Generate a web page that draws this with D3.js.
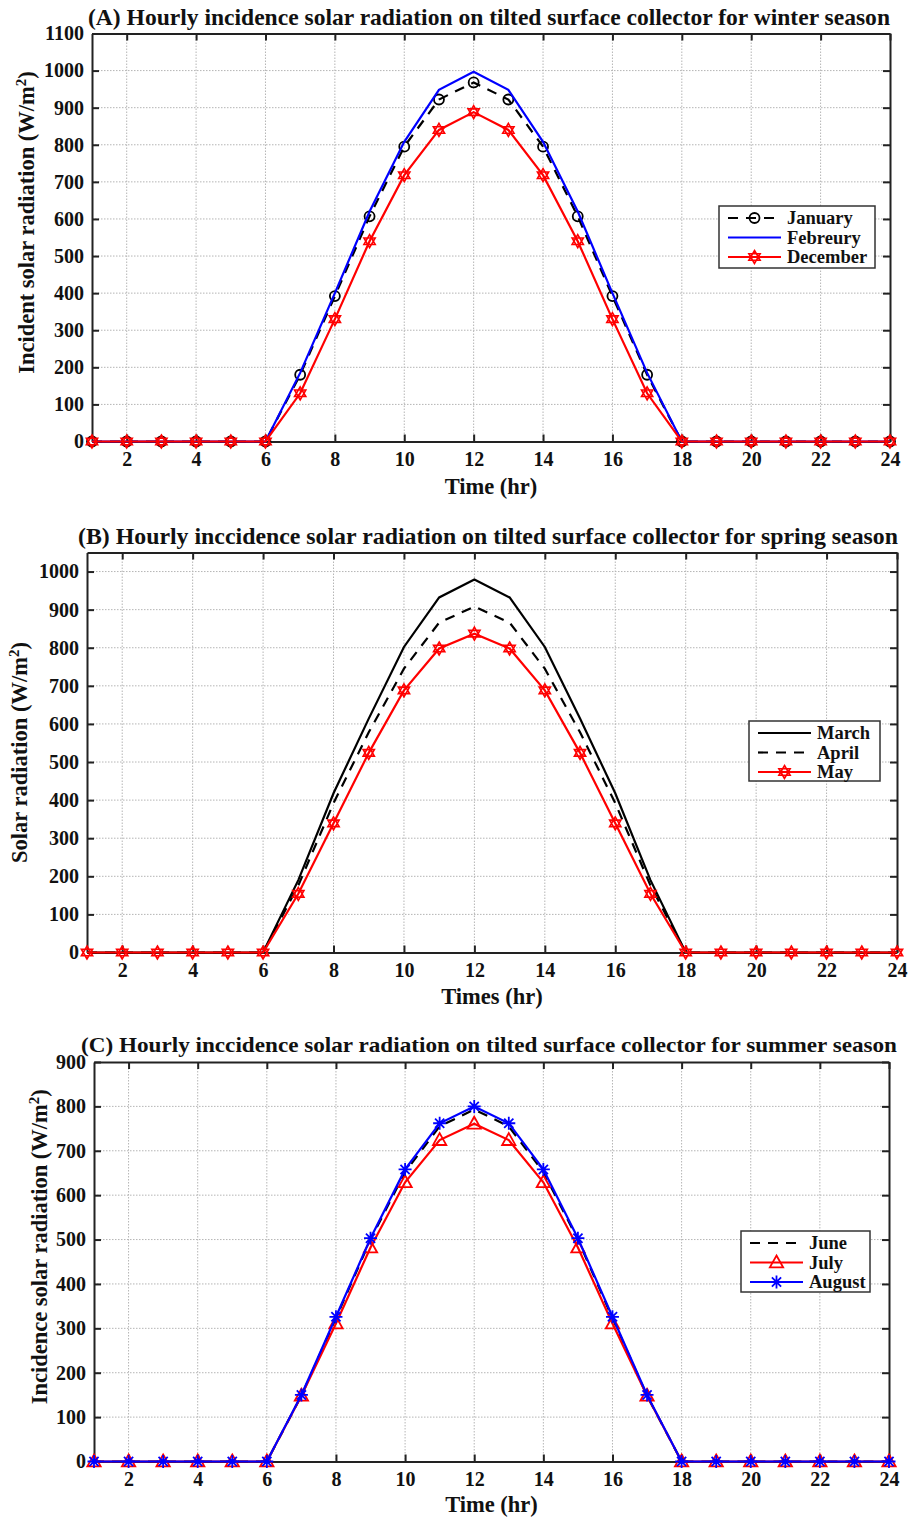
<!DOCTYPE html>
<html><head><meta charset="utf-8">
<script src="https://cdn.jsdelivr.net/npm/d3@7"></script>
<style>body{margin:0;background:#fff}text{font-family:"Liberation Serif","Times New Roman",serif;font-weight:bold;fill:#111}</style>
</head><body>
<svg id="c" width="909" height="1518"></svg>
<script>
const hours = d3.range(1, 25);
const xTicks = [2,4,6,8,10,12,14,16,18,20,22,24];
// Winter
const january  = [0,0,0,0,0,0,180,392,607,795,922,968,922,795,607,392,180,0,0,0,0,0,0,0];
const february = [0,0,0,0,0,0,185,400,620,808,948,997,948,808,620,400,185,0,0,0,0,0,0,0];
const december = [0,0,0,0,0,0,130,330,540,718,840,888,840,718,540,330,130,0,0,0,0,0,0,0];
// Spring
const march = [0,0,0,0,0,0,190,418,614,802,932,979,932,802,614,418,190,0,0,0,0,0,0,0];
const april = [0,0,0,0,0,0,176,392,578,745,866,908,866,745,578,392,176,0,0,0,0,0,0,0];
const may   = [0,0,0,0,0,0,154,339,524,688,798,837,798,688,524,339,154,0,0,0,0,0,0,0];
// Summer
const june   = [0,0,0,0,0,0,148,323,500,652,755,793,755,652,500,323,148,0,0,0,0,0,0,0];
const july   = [0,0,0,0,0,0,148,311,482,629,724,761,724,629,482,311,148,0,0,0,0,0,0,0];
const august = [0,0,0,0,0,0,150,326,503,658,762,800,762,658,503,326,150,0,0,0,0,0,0,0];

const yTicksA = d3.range(0, 1101, 100);
const yTicksB = d3.range(0, 1001, 100);
const yTicksC = d3.range(0, 901, 100);

const svg = d3.select("#c");

function hexagram(r){
  const p=[];
  for(let t=0;t<2;t++){
    const pts=[];
    for(let i=0;i<3;i++){
      const a=(t?Math.PI/2:-Math.PI/2)+i*2*Math.PI/3;
      pts.push([r*Math.cos(a), r*Math.sin(a)]);
    }
    p.push("M"+pts.map(q=>q.join(",")).join("L")+"Z");
  }
  return p.join("");
}
function asterisk(r){
  let s="";
  for(let i=0;i<4;i++){
    const a=i*Math.PI/4;
    s+=`M${-r*Math.cos(a)},${-r*Math.sin(a)}L${r*Math.cos(a)},${r*Math.sin(a)}`;
  }
  return s;
}
function triangle(r){
  return `M0,${-r}L${r*0.95},${r*0.7}L${-r*0.95},${r*0.7}Z`;
}

function drawMarker(g, type, color){
  if(type==="circle") g.append("circle").attr("r",5).attr("fill","none").attr("stroke",color).attr("stroke-width",1.8);
  else if(type==="hex") g.append("path").attr("d",hexagram(6.5)).attr("fill","none").attr("stroke",color).attr("stroke-width",1.6);
  else if(type==="tri") g.append("path").attr("d",triangle(7)).attr("fill","none").attr("stroke",color).attr("stroke-width",1.8);
  else if(type==="ast") g.append("path").attr("d",asterisk(6.5)).attr("fill","none").attr("stroke",color).attr("stroke-width",1.8);
}

function panel(cfg){
  const x = d3.scaleLinear().domain([1,24]).range([cfg.x0, cfg.x1]);
  const y = d3.scaleLinear().domain([0,cfg.ymax]).range([cfg.yb, cfg.yt]);
  const g = svg.append("g");
  // grid
  g.append("g").selectAll("line").data(cfg.yTicks.filter(v=>v>0 && v<cfg.ymax)).join("line")
    .attr("x1",cfg.x0).attr("x2",cfg.x1).attr("y1",d=>y(d)).attr("y2",d=>y(d))
    .attr("stroke","#b5b5b5").attr("stroke-width",1).attr("stroke-dasharray","1.5,1.5");
  g.append("g").selectAll("line").data(xTicks.filter(v=>v<24)).join("line")
    .attr("x1",d=>x(d)).attr("x2",d=>x(d)).attr("y1",cfg.yt).attr("y2",cfg.yb)
    .attr("stroke","#b5b5b5").attr("stroke-width",1).attr("stroke-dasharray","1.5,1.5");
  // axes
  const fmt = d3.format("d");
  const ax = g.append("g").attr("transform",`translate(0,${cfg.yb})`)
    .call(d3.axisBottom(x).tickValues(xTicks).tickFormat(fmt).tickSizeInner(-7).tickSizeOuter(0).tickPadding(10));
  const ay = g.append("g").attr("transform",`translate(${cfg.x0},0)`)
    .call(d3.axisLeft(y).tickValues(cfg.yTicks).tickFormat(fmt).tickSizeInner(-7).tickSizeOuter(0).tickPadding(8));
  const axT = g.append("g").attr("transform",`translate(0,${cfg.yt})`)
    .call(d3.axisTop(x).tickValues(xTicks).tickSizeInner(-7).tickSizeOuter(0).tickFormat(""));
  const ayR = g.append("g").attr("transform",`translate(${cfg.x1},0)`)
    .call(d3.axisRight(y).tickValues(cfg.yTicks).tickSizeInner(-7).tickSizeOuter(0).tickFormat(""));
  [ax,ay,axT,ayR].forEach(a=>{
    a.selectAll(".domain").attr("stroke","#222").attr("stroke-width",2);
    a.selectAll(".tick line").attr("stroke","#222").attr("stroke-width",2);
    a.selectAll("text").attr("font-size",20).attr("font-family","Liberation Serif").attr("font-weight","bold").attr("fill","#111");
  });
  // series
  const line = d3.line().x((d,i)=>x(hours[i])).y(d=>y(d));
  cfg.series.forEach(s=>{
    g.append("path").datum(s.data).attr("d",line).attr("fill","none")
      .attr("stroke",s.color).attr("stroke-width",2.2)
      .attr("stroke-dasharray",s.dash?"10,8":null);
    if(s.marker){
      g.append("g").selectAll("g").data(s.data).join("g")
        .attr("transform",(d,i)=>`translate(${x(hours[i])},${y(d)})`)
        .each(function(){drawMarker(d3.select(this),s.marker,s.color);});
    }
  });
  // title
  svg.append("text").attr("x",cfg.tx).attr("y",cfg.ty).attr("text-anchor","middle")
    .attr("font-size",cfg.tfs||22.5).attr("textLength",cfg.tw).attr("lengthAdjust","spacingAndGlyphs").text(cfg.title);
  // x label
  svg.append("text").attr("x",(cfg.x0+cfg.x1)/2).attr("y",cfg.xly).attr("text-anchor","middle")
    .attr("font-size",22.5).text(cfg.xlabel);
  // y label
  const yl = svg.append("text").attr("transform",`translate(${cfg.ylx},${(cfg.yt+cfg.yb)/2+cfg.yoff}) rotate(-90)`)
    .attr("text-anchor","middle").attr("font-size",22.5);
  yl.append("tspan").text(cfg.ylabel+" (W/m");
  yl.append("tspan").attr("dy",-8).attr("font-size",15).text("2");
  yl.append("tspan").attr("dy",8).text(")");
  // legend
  const L = cfg.legend;
  const lg = svg.append("g").attr("transform",`translate(${L.x},${L.y})`);
  lg.append("rect").attr("width",L.w).attr("height",L.h).attr("fill","#fff").attr("stroke","#333").attr("stroke-width",1.5);
  cfg.series.forEach((s,i)=>{
    const yy = 12 + i*19.5;
    lg.append("line").attr("x1",9).attr("x2",62).attr("y1",yy).attr("y2",yy)
      .attr("stroke",s.color).attr("stroke-width",2.2).attr("stroke-dasharray",s.dash?"10,8":null);
    if(s.marker){ const m=lg.append("g").attr("transform",`translate(35.5,${yy})`); drawMarker(m,s.marker,s.color); }
    lg.append("text").attr("x",68).attr("y",yy+6).attr("font-size",18.5).text(s.name);
  });
}

panel({x0:92,x1:890,yt:33.5,yb:441.5,ymax:1100,yTicks:yTicksA,
  title:"(A) Hourly incidence solar radiation on tilted surface collector for winter season",tx:489,ty:25,tw:802,
  xlabel:"Time (hr)",xly:494,ylabel:"Incident solar radiation",ylx:34,yoff:-15,
  legend:{x:719,y:206,w:156,h:62},
  series:[{name:"January",data:january,color:"#000",dash:true,marker:"circle"},
          {name:"Febreury",data:february,color:"#0000ff"},
          {name:"December",data:december,color:"#ff0000",marker:"hex"}]});

panel({x0:87,x1:897,yt:552.5,yb:952.5,ymax:1050,yTicks:yTicksB,
  title:"(B) Hourly inccidence solar radiation on tilted surface collector for spring season",tx:488,ty:544,tw:820,
  xlabel:"Times (hr)",xly:1004,ylabel:"Solar radiation",ylx:27,yoff:0,
  legend:{x:749,y:721,w:131,h:60},
  series:[{name:"March",data:march,color:"#000"},
          {name:"April",data:april,color:"#000",dash:true},
          {name:"May",data:may,color:"#ff0000",marker:"hex"}]});

panel({x0:94,x1:889,yt:1062,yb:1461.5,ymax:900,yTicks:yTicksC,
  title:"(C) Hourly inccidence solar radiation on tilted surface collector for summer season",tx:489,ty:1052,tw:816,tfs:21.5,
  xlabel:"Time (hr)",xly:1512,ylabel:"Incidence solar radiation",ylx:47,yoff:-15,
  legend:{x:741,y:1231,w:129,h:61},
  series:[{name:"June",data:june,color:"#000",dash:true},
          {name:"July",data:july,color:"#ff0000",marker:"tri"},
          {name:"August",data:august,color:"#0000ff",marker:"ast"}]});
</script>
</body></html>
